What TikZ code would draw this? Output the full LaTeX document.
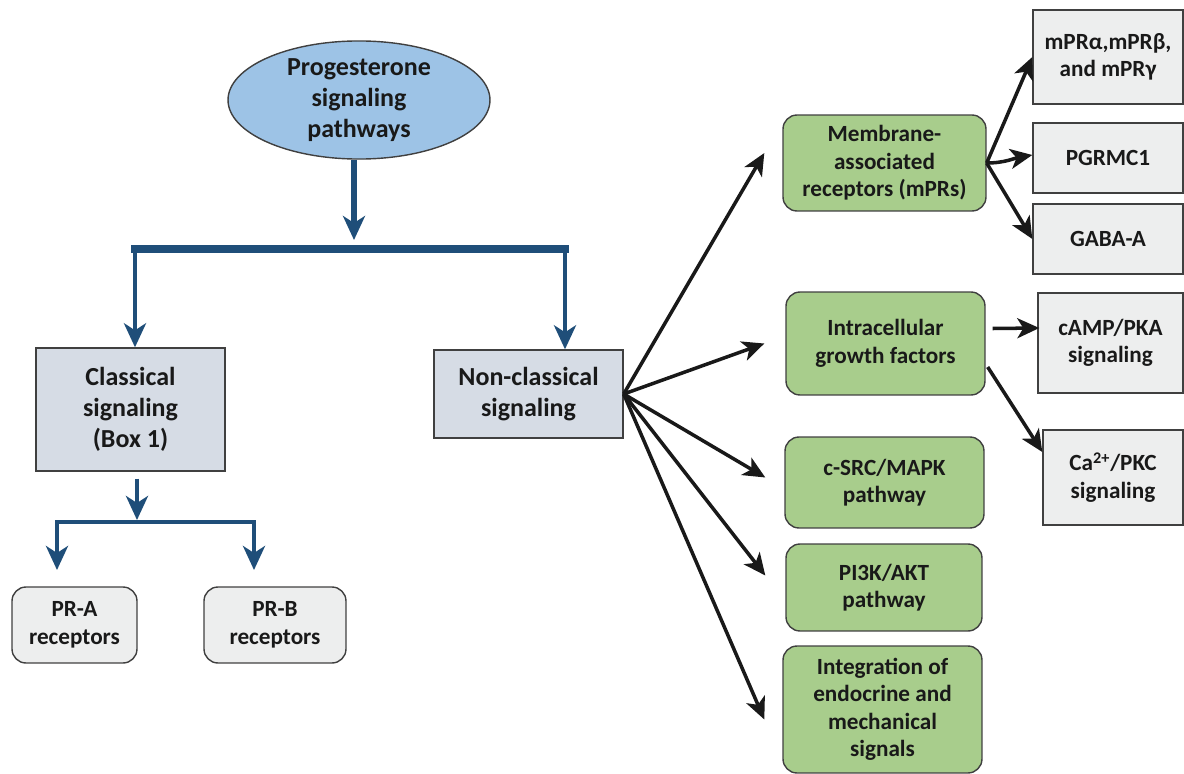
\documentclass[tikz,border=0pt]{standalone}
\usepackage{fontspec}
\setmainfont{Carlito}
\usetikzlibrary{arrows.meta,shapes.geometric}

\definecolor{pathblue}{RGB}{31,78,121}
\definecolor{ellblue}{RGB}{157,195,230}
\definecolor{boxblue}{RGB}{214,220,229}
\definecolor{boxgreen}{RGB}{168,205,140}
\definecolor{boxgray}{RGB}{237,238,238}
\definecolor{edge}{RGB}{64,64,64}

\tikzset{
  bigtext/.style={font=\fontsize{14.8}{17.8}\selectfont\bfseries, align=center, text=black!90},
  smalltext/.style={font=\fontsize{13.2}{15.6}\selectfont\bfseries, align=center, text=black!90},
  sqbox/.style={draw=edge, line width=0.8pt, inner sep=0pt, rectangle},
  rbox/.style={sqbox, rounded corners=0.28cm},
  greenbox/.style={rbox, fill=boxgreen, smalltext},
  graybox/.style={sqbox, fill=boxgray, smalltext},
  bluearr/.style={draw=pathblue, line width=2.8pt, -{Stealth[length=0.48cm,width=0.44cm,inset=0.14cm]}},
  blueline/.style={draw=pathblue, line cap=rect},
  blk/.style={draw=black!90, line width=2pt, -{Stealth[length=0.44cm,width=0.4cm,inset=0.12cm]}},
}

\begin{document}
\begin{tikzpicture}[x=0.02cm, y=-0.02cm]
  \useasboundingbox (0,0) rectangle (1184,774);

  % left part
  \node[ellipse, draw=edge, fill=ellblue, line width=0.8pt, inner sep=0pt,
        minimum width=5.24cm, minimum height=2.28cm, bigtext] (prog) at (359,100)
        {Progesterone\\signaling\\pathways};
  \node[sqbox, fill=boxblue, minimum width=3.78cm, minimum height=2.46cm, bigtext]
        (classical) at (130.5,409.5) {Classical\\signaling\\(Box 1)};
  \node[sqbox, fill=boxblue, minimum width=3.78cm, minimum height=1.76cm, bigtext]
        (nonclass) at (528.5,394) {Non-classical\\signaling};
  \node[rbox, fill=boxgray, minimum width=2.5cm, minimum height=1.52cm, smalltext]
        (pra) at (74.5,625) {PR-A\\receptors};
  \node[rbox, fill=boxgray, minimum width=2.84cm, minimum height=1.52cm, smalltext]
        (prb) at (275,625) {PR-B\\receptors};

  \coordinate (split)  at (354,249);
  \coordinate (splitL) at (135,249);
  \coordinate (splitR) at (565,249);
  \coordinate (csplit)  at (137,522);
  \coordinate (csplitL) at (57,522);
  \coordinate (csplitR) at (254,522);

  \draw[bluearr, line width=3.6pt, shorten >=9*0.02cm] (prog.south -| split) -- (split);
  \draw[blueline, line width=4.2pt] (splitL) -- (splitR);
  \draw[bluearr] (splitL) -- (classical.north -| splitL);
  \draw[bluearr] (splitR) -- (nonclass.north -| splitR);

  \draw[bluearr, shorten <=7*0.02cm, shorten >=2*0.02cm] (classical.south -| csplit) -- (csplit);
  \draw[blueline, line width=2.8pt] (csplitL) -- (csplitR);
  \draw[bluearr] (csplitL) -- ++(0,48);
  \draw[bluearr] (csplitR) -- ++(0,48);

  % right part
  \node[greenbox, minimum width=4.06cm, minimum height=1.92cm] (membrane) at (884.5,163)
        {Membrane-\\associated\\receptors (mPRs)};
  \node[greenbox, minimum width=3.98cm, minimum height=2.06cm] (intra) at (885.5,343.5)
        {Intracellular\\growth factors};
  \node[greenbox, minimum width=3.98cm, minimum height=1.82cm] (csrc) at (884.5,482.5)
        {c-SRC/MAPK\\pathway};
  \node[greenbox, minimum width=3.92cm, minimum height=1.74cm] (pik) at (884,587.5)
        {PI3K/AKT\\pathway};
  \node[greenbox, minimum width=3.98cm, minimum height=2.54cm] (integ) at (882.5,709.5)
        {Integration of\\endocrine and\\mechanical\\signals};

  \node[graybox, minimum width=3cm, minimum height=1.88cm] (mpr) at (1108,57)
        {mPRα,mPRβ,\\and mPRγ};
  \node[graybox, minimum width=3cm, minimum height=1.4cm] (pgrmc) at (1108,158) {PGRMC1};
  \node[graybox, minimum width=3cm, minimum height=1.4cm] (gaba) at (1108,239) {GABA-A};
  \node[graybox, minimum width=2.9cm, minimum height=2cm] (camp) at (1110.5,343)
        {cAMP/PKA\\signaling};
  \node[graybox, minimum width=2.8cm, minimum height=1.9cm] (ca) at (1113,477.5)
        {Ca\textsuperscript{2+}/PKC\\signaling};

  \draw[blk] (nonclass.east) -- ([shift={(-18,-10)}]membrane.west);
  \draw[blk] (nonclass.east) -- ([shift={(-21,0)}]intra.west);
  \draw[blk] (nonclass.east) -- ([shift={(-19,-5)}]csrc.west);
  \draw[blk] (nonclass.east) -- ([shift={(-20,-12)}]pik.west);
  \draw[blk] (nonclass.east) -- ([shift={(-18,10)}]integ.west);

  \draw[blk] (membrane.east) -- (mpr.west);
  \draw[blk] (membrane.east) to[out=0,in=190] ([yshift=3*0.02cm]pgrmc.west);
  \draw[blk] (membrane.east) -- (gaba.west);
  \draw[blk] ([shift={(7,-15)}]intra.east) -- ([shift={(2,-15)}]camp.west);
  \draw[blk] ([shift={(2,23.5)}]intra.east) -- ([shift={(0,-25.5)}]ca.west);
\end{tikzpicture}
\end{document}
